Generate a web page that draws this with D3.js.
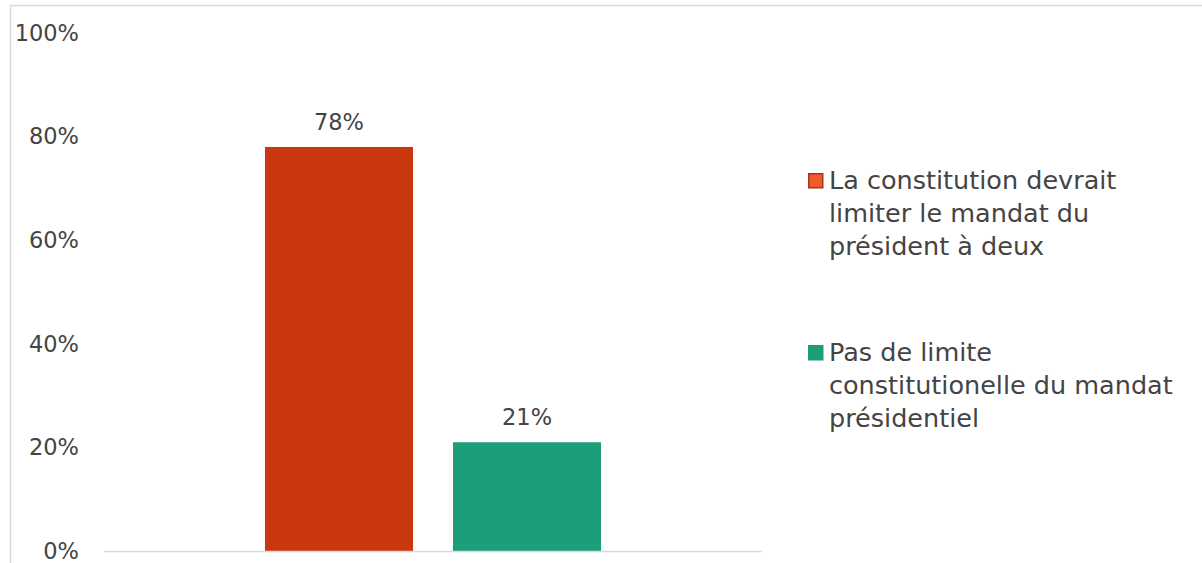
<!DOCTYPE html>
<html>
<head>
<meta charset="utf-8">
<script src="https://cdn.jsdelivr.net/npm/d3@7"></script>
<style>
  body { margin: 0; background: #fff; }
  text { font-family: "DejaVu Sans", sans-serif; fill: #444; }
</style>
</head>
<body>
<div id="chart"></div>
<script>
const categories = ["Mandat présidentiel"];
const seriesNames = [
  ["La constitution devrait", "limiter le mandat du", "président à deux"],
  ["Pas de limite", "constitutionelle du mandat", "présidentiel"]
];
const seriesValues = [78, 21];
const seriesColors = ["#c9370f", "#1c9e7b"];
const legendFill = ["#f15a2b", "#1c9e7b"];
const legendStroke = ["#a3361a", "#1c9e7b"];
const yTicks = [0, 20, 40, 60, 80, 100];

const W = 1202, H = 563;
const svg = d3.select("#chart").append("svg")
  .attr("width", W).attr("height", H);

// chart frame
svg.append("rect")
  .attr("x", 10.5).attr("y", 5.5)
  .attr("width", W + 10).attr("height", H + 10)
  .attr("fill", "none")
  .attr("stroke", "#d9d9d9")
  .attr("stroke-width", 1.5);

const plot = {left: 104, right: 762, top: 33, bottom: 551};

const y = d3.scaleLinear().domain([0, 100]).range([plot.bottom, plot.top]);
const x0 = d3.scaleBand().domain(categories)
  .range([plot.left, plot.right])
  .paddingInner(0).paddingOuter(0.479);
const x1 = d3.scaleBand().domain(d3.range(seriesValues.length))
  .range([0, x0.bandwidth()])
  .paddingInner(0.2128).paddingOuter(0);

// y axis labels
const yAxis = d3.axisLeft(y).tickValues(yTicks).tickFormat(d => d + "%").tickSize(0).tickPadding(0);
const ya = svg.append("g").attr("transform", "translate(79,0)").call(yAxis);
ya.select(".domain").remove();
ya.selectAll("text").style("font-size", "22.5px").attr("fill", "#444")
  .attr("font-family", "DejaVu Sans");

// bars
const g = svg.append("g").attr("transform", `translate(${x0(categories[0])},0)`);
g.selectAll("rect.bar").data(seriesValues).join("rect")
  .attr("class", "bar")
  .attr("x", (d, i) => x1(i))
  .attr("y", d => y(d))
  .attr("width", x1.bandwidth())
  .attr("height", d => y(0) - y(d))
  .attr("fill", (d, i) => seriesColors[i]);

g.selectAll("text.lbl").data(seriesValues).join("text")
  .attr("class", "lbl")
  .attr("x", (d, i) => x1(i) + x1.bandwidth() / 2)
  .attr("y", d => y(d) - 17)
  .attr("text-anchor", "middle")
  .style("font-size", "22.5px")
  .text(d => d + "%");

// baseline
svg.append("line")
  .attr("x1", plot.left).attr("x2", plot.right)
  .attr("y1", y(0) + 0.5).attr("y2", y(0) + 0.5)
  .attr("stroke", "#d9d9d9").attr("stroke-width", 1.5);

// legend
const legendTop = [173, 345];
seriesNames.forEach((lines, i) => {
  const lg = svg.append("g").attr("transform", `translate(808,${legendTop[i]})`);
  lg.append("rect")
    .attr("x", 0.75).attr("y", 0.75)
    .attr("width", 14).attr("height", 14)
    .attr("fill", legendFill[i])
    .attr("stroke", legendStroke[i])
    .attr("stroke-width", 1.5);
  lg.append("text")
    .attr("x", 21).attr("y", 16)
    .style("font-size", "25.5px")
    .selectAll("tspan").data(lines).join("tspan")
    .attr("x", 21)
    .attr("dy", (d, j) => j === 0 ? 0 : 33)
    .text(d => d);
});
</script>
</body>
</html>
